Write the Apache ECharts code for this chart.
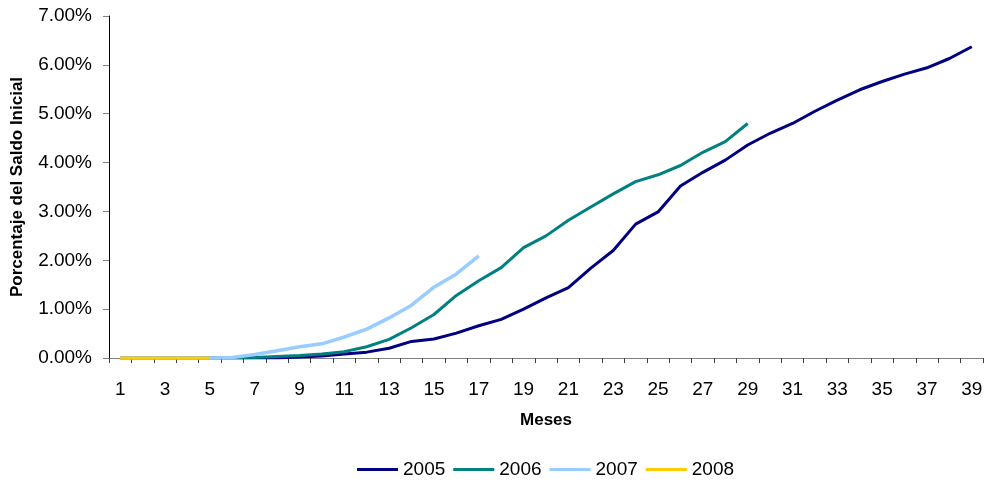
<!DOCTYPE html>
<html>
<head>
<meta charset="utf-8">
<script src="https://cdn.jsdelivr.net/npm/echarts@6/dist/echarts.min.js"></script>
<style>
  html, body { margin: 0; padding: 0; background: #ffffff; }
  #chart { width: 986px; height: 485px; }
</style>
</head>
<body>
<div id="chart"></div>
<script>
// Months since origination
const months = Array.from({ length: 39 }, (_, i) => String(i + 1));

// Cumulative percentage of the initial balance, by vintage year
const s2005 = [0, 0, 0, 0, 0, 0, 0, 0, 0.02, 0.04, 0.08, 0.12, 0.20, 0.34, 0.39, 0.51, 0.66, 0.79, 1.00, 1.23,
  1.44, 1.84, 2.20, 2.74, 2.99, 3.52, 3.80, 4.05, 4.36, 4.60, 4.80, 5.05, 5.28, 5.49, 5.66, 5.81, 5.94, 6.13, 6.37];
const s2006 = [0, 0, 0, 0, 0, 0, 0.01, 0.03, 0.05, 0.08, 0.13, 0.23, 0.38, 0.62, 0.89, 1.28, 1.58, 1.85, 2.26, 2.50,
  2.82, 3.09, 3.36, 3.61, 3.75, 3.94, 4.21, 4.43, 4.80];
const s2007 = [0, 0, 0, 0, 0, 0.01, 0.07, 0.15, 0.23, 0.29, 0.43, 0.59, 0.82, 1.08, 1.45, 1.72, 2.09];
const s2008 = [0, 0, 0, 0, 0];

const seriesNames = ['2005', '2006', '2007', '2008'];
const seriesData = [s2005, s2006, s2007, s2008];
const seriesColors = ['#000080', '#008080', '#99CCFF', '#FFCC00'];
const seriesWidths = [3, 3, 3.5, 3];

const FONT = 'Liberation Sans, Arial, sans-serif';

const chart = echarts.init(document.getElementById('chart'), null, { renderer: 'canvas' });

chart.setOption({
  animation: false,
  backgroundColor: '#ffffff',
  grid: { left: 109, right: 3, top: 16, bottom: 127, containLabel: false },
  legend: {
    data: seriesNames.map(name => ({ name, icon: 'rect' })),
    left: 357,
    top: 460,
    padding: 0,
    itemWidth: 41,
    itemHeight: 3,
    itemGap: 8,
    textStyle: { fontFamily: FONT, fontSize: 19, color: '#000' }
  },
  xAxis: {
    type: 'category',
    data: months,
    boundaryGap: true,
    name: 'Meses',
    nameLocation: 'middle',
    nameGap: 54,
    nameTextStyle: { fontFamily: FONT, fontSize: 17, fontWeight: 'bold', color: '#000' },
    axisLine: { lineStyle: { color: '#808080', width: 1 } },
    axisTick: { show: true, interval: 0, alignWithLabel: false, length: 5, lineStyle: { color: '#404040' } },
    axisLabel: { interval: 1, margin: 22, fontFamily: FONT, fontSize: 19, color: '#000' },
    splitLine: { show: false }
  },
  yAxis: {
    type: 'value',
    min: 0,
    max: 7,
    interval: 1,
    name: 'Porcentaje del Saldo Inicial',
    nameLocation: 'middle',
    nameGap: 83,
    nameRotate: 90,
    nameTextStyle: { fontFamily: FONT, fontSize: 17, fontWeight: 'bold', color: '#000' },
    axisLine: { show: true, lineStyle: { color: '#000', width: 1 } },
    axisTick: { show: true, length: 6, lineStyle: { color: '#808080' } },
    axisLabel: {
      margin: 17,
      fontFamily: FONT,
      fontSize: 19,
      color: '#000',
      formatter: v => v.toFixed(2) + '%'
    },
    splitLine: { show: false }
  },
  series: seriesNames.map((name, i) => ({
    name,
    type: 'line',
    data: seriesData[i],
    symbol: 'none',
    showSymbol: false,
    smooth: false,
    color: seriesColors[i],
    lineStyle: { color: seriesColors[i], width: seriesWidths[i] },
    z: 2 + i
  }))
});
</script>
</body>
</html>
